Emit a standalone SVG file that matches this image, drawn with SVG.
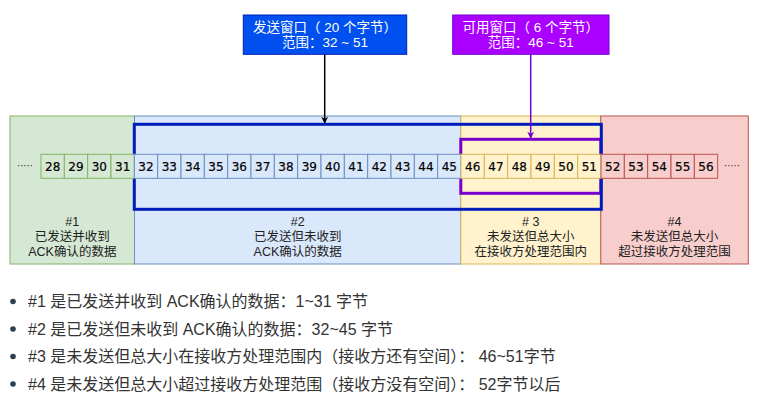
<svg xmlns="http://www.w3.org/2000/svg" width="770" height="401" viewBox="0 0 770 401">
<defs>
<style>
.g{fill:#d5e8d4;stroke:#82b366;stroke-width:1}
.b{fill:#dae8fc;stroke:#6c8ebf;stroke-width:1}
.y{fill:#fff2cc;stroke:#d6b656;stroke-width:1}
.r{fill:#f8cecc;stroke:#b85450;stroke-width:1}
.num{font-family:"DejaVu Sans",Verdana,sans-serif;font-size:12px;fill:#000;stroke:#000;stroke-width:0.2;text-anchor:middle}
.lbl{font-family:"Liberation Sans","Noto Sans CJK SC",sans-serif;font-size:12.5px;fill:#222;text-anchor:middle}
.top{font-family:"Liberation Sans","Noto Sans CJK SC",sans-serif;font-size:13.5px;fill:#fff;text-anchor:middle}
.bt{font-family:"Liberation Sans","Noto Sans CJK SC",sans-serif;font-size:16px;fill:#333}
.dots{font-family:"DejaVu Sans",sans-serif;font-size:10px;fill:#333}
</style>
<marker id="ak" viewBox="0 0 10 10" refX="9" refY="5" markerWidth="7" markerHeight="7" markerUnits="userSpaceOnUse" orient="auto"><path d="M0,0 L10,5 L0,10 L3,5 z" fill="#000"/></marker>
<marker id="ap" viewBox="0 0 10 10" refX="9" refY="5" markerWidth="7" markerHeight="7" markerUnits="userSpaceOnUse" orient="auto"><path d="M0,0 L10,5 L0,10 L3,5 z" fill="#7700cc"/></marker>
</defs>
<rect width="770" height="401" fill="#fff"/>

<g id="region1"><rect class="g" x="10" y="116" width="124.5" height="148"/>
<text class="lbl" x="72.3" y="226">#1</text><text class="lbl" x="72.3" y="241">已发送并收到</text><text class="lbl" x="72.3" y="256">ACK确认的数据</text></g>
<g id="region2"><rect class="b" x="134.5" y="116" width="326.3" height="148"/>
<text class="lbl" x="297.7" y="226">#2</text><text class="lbl" x="297.7" y="241">已发送但未收到</text><text class="lbl" x="297.7" y="256">ACK确认的数据</text></g>
<g id="region3"><rect class="y" x="460.8" y="116" width="140" height="148"/>
<text class="lbl" x="530.8" y="226"># 3</text><text class="lbl" x="530.8" y="241">未发送但总大小</text><text class="lbl" x="530.8" y="256">在接收方处理范围内</text></g>
<g id="region4"><rect class="r" x="600.8" y="116" width="147.5" height="148"/>
<text class="lbl" x="674.5" y="226">#4</text><text class="lbl" x="674.5" y="241">未发送但总大小</text><text class="lbl" x="674.5" y="256">超过接收方处理范围</text></g>

<g id="usable-window-frame"><rect x="460.8" y="139.3" width="140" height="54" fill="none" stroke="#7700cc" stroke-width="3"/></g>
<g id="send-window-frame"><rect x="134.3" y="124.3" width="467" height="85" fill="none" stroke="#001dbc" stroke-width="3"/></g>

<g id="cells">
<text class="dots" x="17" y="169">·····</text>
<g id="c28"><rect class="g" x="41" y="154.3" width="23.33" height="24"/><text class="num" x="52.67" y="170.6">28</text></g>
<g id="c29"><rect class="g" x="64.33" y="154.3" width="23.33" height="24"/><text class="num" x="76" y="170.6">29</text></g>
<g id="c30"><rect class="g" x="87.67" y="154.3" width="23.33" height="24"/><text class="num" x="99.33" y="170.6">30</text></g>
<g id="c31"><rect class="g" x="111" y="154.3" width="23.33" height="24"/><text class="num" x="122.67" y="170.6">31</text></g>
<g id="c32"><rect class="b" x="134.33" y="154.3" width="23.33" height="24"/><text class="num" x="146" y="170.6">32</text></g>
<g id="c33"><rect class="b" x="157.67" y="154.3" width="23.33" height="24"/><text class="num" x="169.33" y="170.6">33</text></g>
<g id="c34"><rect class="b" x="181" y="154.3" width="23.33" height="24"/><text class="num" x="192.67" y="170.6">34</text></g>
<g id="c35"><rect class="b" x="204.33" y="154.3" width="23.33" height="24"/><text class="num" x="216" y="170.6">35</text></g>
<g id="c36"><rect class="b" x="227.67" y="154.3" width="23.33" height="24"/><text class="num" x="239.33" y="170.6">36</text></g>
<g id="c37"><rect class="b" x="251" y="154.3" width="23.33" height="24"/><text class="num" x="262.67" y="170.6">37</text></g>
<g id="c38"><rect class="b" x="274.33" y="154.3" width="23.33" height="24"/><text class="num" x="286" y="170.6">38</text></g>
<g id="c39"><rect class="b" x="297.67" y="154.3" width="23.33" height="24"/><text class="num" x="309.33" y="170.6">39</text></g>
<g id="c40"><rect class="b" x="321" y="154.3" width="23.33" height="24"/><text class="num" x="332.67" y="170.6">40</text></g>
<g id="c41"><rect class="b" x="344.33" y="154.3" width="23.33" height="24"/><text class="num" x="356" y="170.6">41</text></g>
<g id="c42"><rect class="b" x="367.67" y="154.3" width="23.33" height="24"/><text class="num" x="379.33" y="170.6">42</text></g>
<g id="c43"><rect class="b" x="391" y="154.3" width="23.33" height="24"/><text class="num" x="402.67" y="170.6">43</text></g>
<g id="c44"><rect class="b" x="414.33" y="154.3" width="23.33" height="24"/><text class="num" x="426" y="170.6">44</text></g>
<g id="c45"><rect class="b" x="437.67" y="154.3" width="23.33" height="24"/><text class="num" x="449.33" y="170.6">45</text></g>
<g id="c46"><rect class="y" x="461" y="154.3" width="23.33" height="24"/><text class="num" x="472.67" y="170.6">46</text></g>
<g id="c47"><rect class="y" x="484.33" y="154.3" width="23.33" height="24"/><text class="num" x="496" y="170.6">47</text></g>
<g id="c48"><rect class="y" x="507.67" y="154.3" width="23.33" height="24"/><text class="num" x="519.33" y="170.6">48</text></g>
<g id="c49"><rect class="y" x="531" y="154.3" width="23.33" height="24"/><text class="num" x="542.67" y="170.6">49</text></g>
<g id="c50"><rect class="y" x="554.33" y="154.3" width="23.33" height="24"/><text class="num" x="566" y="170.6">50</text></g>
<g id="c51"><rect class="y" x="577.67" y="154.3" width="23.33" height="24"/><text class="num" x="589.33" y="170.6">51</text></g>
<g id="c52"><rect class="r" x="601" y="154.3" width="23.33" height="24"/><text class="num" x="612.67" y="170.6">52</text></g>
<g id="c53"><rect class="r" x="624.33" y="154.3" width="23.33" height="24"/><text class="num" x="636" y="170.6">53</text></g>
<g id="c54"><rect class="r" x="647.67" y="154.3" width="23.33" height="24"/><text class="num" x="659.33" y="170.6">54</text></g>
<g id="c55"><rect class="r" x="671" y="154.3" width="23.33" height="24"/><text class="num" x="682.67" y="170.6">55</text></g>
<g id="c56"><rect class="r" x="694.33" y="154.3" width="23.33" height="24"/><text class="num" x="706" y="170.6">56</text></g>
<text class="dots" x="724" y="169">·····</text>
</g>

<g id="send-window-label"><rect x="243.3" y="15" width="163.4" height="39.3" fill="#0050ef" stroke="#001dbc" stroke-width="1"/>
<text class="top" x="325" y="32">发送窗口（ 20 个字节）</text><text class="top" x="325" y="47">范围：32 ~ 51</text></g>
<g id="usable-window-label"><rect x="452.7" y="15" width="156.3" height="39.3" fill="#aa00ff" stroke="#7700cc" stroke-width="1"/>
<text class="top" x="530.8" y="32">可用窗口（ 6 个字节）</text><text class="top" x="530.8" y="47">范围：46 ~ 51</text></g>

<g id="connectors">
<line x1="324.7" y1="54.3" x2="324.7" y2="123" stroke="#000" stroke-width="1.5" marker-end="url(#ak)"/>
<line x1="530.7" y1="54.3" x2="530.7" y2="138" stroke="#7700cc" stroke-width="1.5" marker-end="url(#ap)"/>
</g>

<g id="bullets">
<circle cx="13" cy="301.5" r="2.8" fill="#2c3e50"/><text class="bt" x="28" y="307">#1 是已发送并收到 ACK确认的数据：1~31 字节</text>
<circle cx="13" cy="329" r="2.8" fill="#2c3e50"/><text class="bt" x="28" y="334.5">#2 是已发送但未收到 ACK确认的数据：32~45 字节</text>
<circle cx="13" cy="356.5" r="2.8" fill="#2c3e50"/><text class="bt" x="28" y="362">#3 是未发送但总大小在接收方处理范围内（接收方还有空间）： 46~51字节</text>
<circle cx="13" cy="384" r="2.8" fill="#2c3e50"/><text class="bt" x="28" y="389.5">#4 是未发送但总大小超过接收方处理范围（接收方没有空间）： 52字节以后</text>
</g>
</svg>
